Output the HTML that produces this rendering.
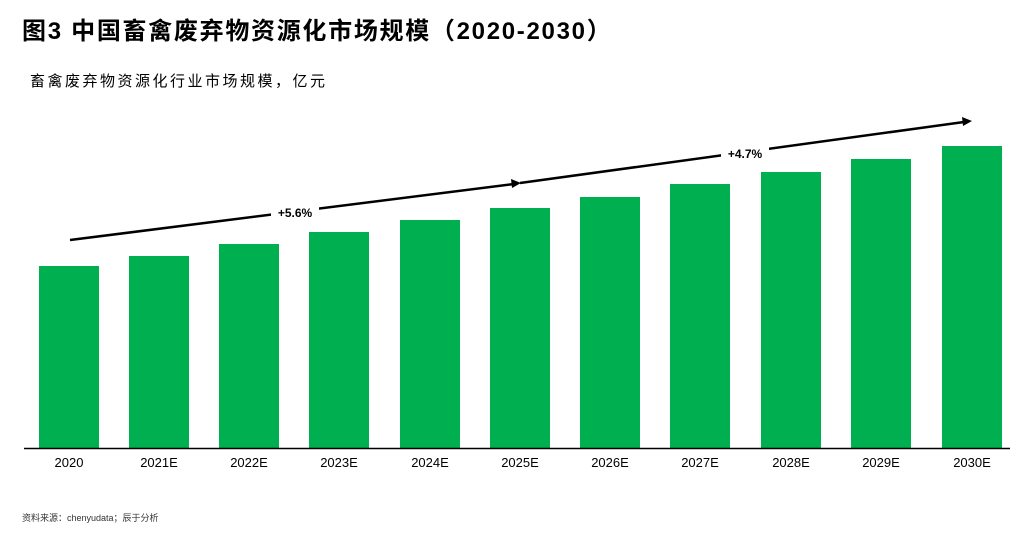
<!DOCTYPE html>
<html><head><meta charset="utf-8"><style>
body{margin:0;width:1024px;height:548px;background:#fff;overflow:hidden;position:relative;font-family:"Liberation Sans","Noto Sans CJK SC",sans-serif;}
.t{position:absolute;left:22px;top:11px;font-size:24px;font-weight:bold;color:#000;white-space:nowrap;letter-spacing:1.7px}
.s{position:absolute;left:30px;top:70px;font-size:15px;color:#000;white-space:nowrap;letter-spacing:2.5px}
.src{position:absolute;left:22px;top:511px;font-size:9px;color:#333;white-space:nowrap}
</style></head><body>
<div class="t">图3 中国畜禽废弃物资源化市场规模（2020-2030）</div>
<div class="s">畜禽废弃物资源化行业市场规模，亿元</div>
<svg width="1024" height="548" style="position:absolute;left:0;top:0">
<g fill="#00b050">
<rect x="39" y="266" width="60" height="182"/>
<rect x="129" y="256" width="60" height="192"/>
<rect x="219" y="244" width="60" height="204"/>
<rect x="309" y="232" width="60" height="216"/>
<rect x="400" y="220" width="60" height="228"/>
<rect x="490" y="208" width="60" height="240"/>
<rect x="580" y="197" width="60" height="251"/>
<rect x="670" y="184" width="60" height="264"/>
<rect x="761" y="172" width="60" height="276"/>
<rect x="851" y="159" width="60" height="289"/>
<rect x="942" y="146" width="60" height="302"/>
</g>
<line x1="24" y1="448.5" x2="1010" y2="448.5" stroke="#000" stroke-width="1.5"/>
<g font-size="13" text-anchor="middle" fill="#000">
<text x="69" y="467">2020</text><text x="159" y="467">2021E</text><text x="249" y="467">2022E</text><text x="339" y="467">2023E</text><text x="430" y="467">2024E</text><text x="520" y="467">2025E</text><text x="610" y="467">2026E</text><text x="700" y="467">2027E</text><text x="791" y="467">2028E</text><text x="881" y="467">2029E</text><text x="972" y="467">2030E</text>
</g>
<g stroke="#000" stroke-width="2.5">
<line x1="70" y1="240" x2="514" y2="184"/>
<line x1="520" y1="183" x2="964" y2="122"/>
</g>
<polygon points="521,183 511,179 512,188" fill="#000"/>
<polygon points="972,121 962,117 963,126" fill="#000"/>
<rect x="271" y="203" width="48" height="20" fill="#fff"/>
<rect x="721" y="144" width="48" height="20" fill="#fff"/>
<g font-size="12" font-weight="bold" text-anchor="middle" fill="#000">
<text x="295" y="217">+5.6%</text>
<text x="745" y="158">+4.7%</text>
</g>
</svg>
<div class="src">资料来源：chenyudata；辰于分析</div>
</body></html>
